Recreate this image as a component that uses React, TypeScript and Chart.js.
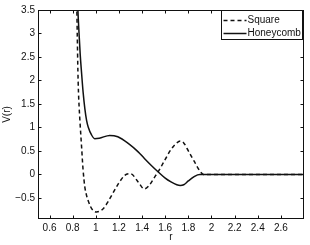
import React, { useEffect, useRef } from 'react';
import { Chart, registerables } from 'chart.js';

Chart.register(...registerables);

const seriesNames = ['Square', 'Honeycomb'];

const squareR = [0.82, 0.836, 0.84, 0.845, 0.85, 0.856, 0.862, 0.877, 0.89, 0.905, 0.92, 0.934, 0.955, 0.977, 1.006, 1.05, 1.078, 1.106, 1.136, 1.19, 1.25, 1.3, 1.366, 1.42, 1.46, 1.5, 1.55, 1.6, 1.65, 1.7, 1.73, 1.76, 1.8, 1.85, 1.9, 1.93, 2.0, 2.8];
const squareV = [6.0, 3.5, 2.9, 2.2, 1.75, 1.42, 1.16, 0.58, 0.09, -0.27, -0.45, -0.56, -0.69, -0.77, -0.8, -0.76, -0.69, -0.58, -0.45, -0.22, -0.02, 0.015, -0.16, -0.31, -0.24, -0.09, 0.1, 0.32, 0.53, 0.67, 0.71, 0.67, 0.5, 0.28, 0.07, 0.0, 0.0, 0.0];

const honeyR = [0.82, 0.845, 0.855, 0.865, 0.877, 0.89, 0.905, 0.92, 0.934, 0.963, 0.99, 1.03, 1.12, 1.19, 1.28, 1.366, 1.42, 1.48, 1.54, 1.6, 1.65, 1.7, 1.73, 1.76, 1.8, 1.85, 1.88, 1.9, 2.8];
const honeyV = [5.5, 3.5, 3.0, 2.55, 2.15, 1.75, 1.4, 1.15, 1.01, 0.84, 0.76, 0.77, 0.83, 0.8, 0.66, 0.48, 0.34, 0.19, 0.05, -0.08, -0.16, -0.22, -0.235, -0.22, -0.14, -0.05, -0.01, 0.0, 0.0];

const xTicks = [0.6, 0.8, 1, 1.2, 1.4, 1.6, 1.8, 2, 2.2, 2.4, 2.6];
const xTickLabels = ['0.6', '0.8', '1', '1.2', '1.4', '1.6', '1.8', '2', '2.2', '2.4', '2.6'];
const yTicks = [-0.5, 0, 0.5, 1, 1.5, 2, 2.5, 3, 3.5];
const yTickLabels = ['\u22120.5', '0', '0.5', '1', '1.5', '2', '2.5', '3', '3.5'];
const xRange = [0.5, 2.8];
const yRange = [-0.95, 3.5];
const xTitle = 'r';
const yTitle = 'V(r)';

const FONT = '"Liberation Sans", Arial, Helvetica, sans-serif';
const INK = '#111';

const framePlugin = {
  id: 'frame',
  afterDraw(chart: any) {
    const { ctx, chartArea } = chart;
    const xs = chart.scales.x;
    const ys = chart.scales.y;
    const L = Math.round(chartArea.left) + 0.5;
    const R = Math.round(chartArea.right) - 0.5;
    const T = Math.round(chartArea.top) + 0.5;
    const B = Math.round(chartArea.bottom) - 0.5;
    ctx.save();
    ctx.strokeStyle = INK;
    ctx.lineWidth = 1;
    ctx.setLineDash([]);
    ctx.strokeRect(L, T, R - L, B - T);
    const tl = 3;
    ctx.beginPath();
    xTicks.forEach((v) => {
      const px = Math.round(xs.getPixelForValue(v)) + 0.5;
      ctx.moveTo(px, B);
      ctx.lineTo(px, B - tl);
      ctx.moveTo(px, T);
      ctx.lineTo(px, T + tl);
    });
    yTicks.forEach((v) => {
      const py = Math.round(ys.getPixelForValue(v)) + 0.5;
      ctx.moveTo(L, py);
      ctx.lineTo(L + tl, py);
      ctx.moveTo(R, py);
      ctx.lineTo(R - tl, py);
    });
    ctx.stroke();

    // legend box
    const bw = 81;
    const bh = 29;
    const bx = Math.round(R - 2 - bw) + 0.5;
    const by = T;
    ctx.fillStyle = '#fff';
    ctx.fillRect(bx, by, bw, bh);
    ctx.strokeRect(bx, by, bw, bh);
    ctx.font = `10px ${FONT}`;
    ctx.textBaseline = 'middle';
    ctx.textAlign = 'left';
    chart.data.datasets.forEach((ds: any, i: number) => {
      const cy = by + 10 + i * 13;
      ctx.beginPath();
      ctx.lineWidth = 1.5;
      ctx.setLineDash(ds.borderDash || []);
      ctx.moveTo(bx + 2, cy);
      ctx.lineTo(bx + 25, cy);
      ctx.stroke();
      ctx.setLineDash([]);
      ctx.fillStyle = INK;
      ctx.fillText(ds.label, bx + 26, cy);
    });
    ctx.restore();
  },
};

export default function App() {
  const ref = useRef<HTMLCanvasElement | null>(null);
  useEffect(() => {
    document.body.style.margin = '0';
    const canvas = ref.current;
    if (!canvas) return;
    const chart = new Chart(canvas, {
      type: 'line',
      data: {
        datasets: [
          {
            label: seriesNames[0],
            data: squareR.map((r, i) => ({ x: r, y: squareV[i] })),
            borderColor: INK,
            borderWidth: 1.5,
            borderDash: [4, 3],
            pointRadius: 0,
            cubicInterpolationMode: 'monotone',
            fill: false,
          },
          {
            label: seriesNames[1],
            data: honeyR.map((r, i) => ({ x: r, y: honeyV[i] })),
            borderColor: INK,
            borderWidth: 1.5,
            pointRadius: 0,
            cubicInterpolationMode: 'monotone',
            fill: false,
          },
        ],
      },
      options: {
        animation: false,
        responsive: true,
        maintainAspectRatio: false,
        layout: { padding: { top: 10, right: 6, left: 0, bottom: 0 } },
        plugins: { legend: { display: false }, tooltip: { enabled: false } },
        scales: {
          x: {
            type: 'linear',
            min: xRange[0],
            max: xRange[1],
            afterBuildTicks: (s: any) => {
              s.ticks = xTicks.map((v) => ({ value: v }));
            },
            afterFit: (s: any) => {
              s.height = 26;
            },
            grid: { display: false, drawTicks: false },
            border: { display: false },
            ticks: {
              padding: 3,
              maxRotation: 0,
              autoSkip: false,
              color: INK,
              font: { family: FONT, size: 10 },
              callback: (v: any) => xTickLabels[xTicks.indexOf(Number(v))] ?? '',
            },
            title: {
              display: true,
              text: xTitle,
              color: INK,
              font: { family: FONT, size: 10 },
              padding: { top: 0, bottom: 2 },
            },
          },
          y: {
            type: 'linear',
            min: yRange[0],
            max: yRange[1],
            afterBuildTicks: (s: any) => {
              s.ticks = yTicks.map((v) => ({ value: v }));
            },
            afterFit: (s: any) => {
              s.width = 38;
            },
            grid: { display: false, drawTicks: false },
            border: { display: false },
            ticks: {
              padding: 3,
              autoSkip: false,
              color: INK,
              font: { family: FONT, size: 10 },
              callback: (v: any) => yTickLabels[yTicks.indexOf(Number(v))] ?? '',
            },
            title: {
              display: true,
              text: yTitle,
              color: INK,
              font: { family: FONT, size: 10 },
              padding: { top: 1, bottom: 0 },
            },
          },
        },
      },
      plugins: [framePlugin],
    } as any);
    return () => chart.destroy();
  }, []);
  return (
    <div style={{ width: 310, height: 245, position: 'relative' }}>
      <canvas ref={ref} />
    </div>
  );
}
